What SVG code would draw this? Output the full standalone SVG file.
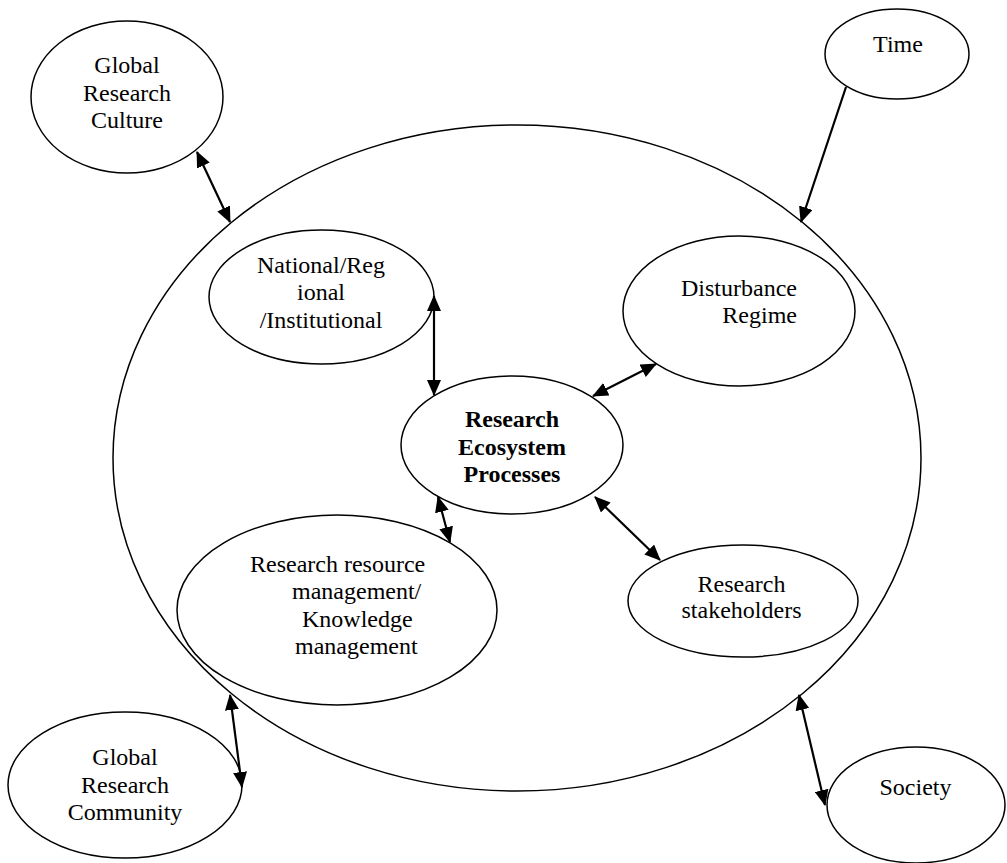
<svg xmlns="http://www.w3.org/2000/svg" width="1007" height="863" viewBox="0 0 1007 863">
<style>
.n{fill:#fff;stroke:#000;stroke-width:1.5}
.t{font-family:"Liberation Serif","Times New Roman",serif;font-size:24px;fill:#000}
.c{text-anchor:middle}
.b{font-weight:bold}
.e{stroke:#000;stroke-width:2.2;fill:none}
</style>
<defs>
<marker id="ah" viewBox="0 0 16 14" refX="15" refY="7" markerWidth="16" markerHeight="14" markerUnits="userSpaceOnUse" orient="auto-start-reverse">
<path d="M0,0 L16,7 L0,14 z" fill="#000"/>
</marker>
</defs>
<rect width="1007" height="863" fill="#fff"/>
<g id="ecosystem"><ellipse class="n" cx="517" cy="458" rx="404" ry="333"/></g>
<g id="global-culture"><ellipse class="n" cx="127" cy="97" rx="96" ry="76"/>
<text class="t c" x="127" y="73">Global</text><text class="t c" x="127" y="101">Research</text><text class="t c" x="127" y="128">Culture</text></g>
<g id="time"><ellipse class="n" cx="897" cy="54" rx="72" ry="45"/><text class="t c" x="898" y="52">Time</text></g>
<g id="national"><ellipse class="n" cx="321.5" cy="297" rx="112.5" ry="67"/>
<text class="t c" x="321" y="273">National/Reg</text><text class="t c" x="321" y="300">ional</text><text class="t c" x="321" y="328">/Institutional</text></g>
<g id="disturbance"><ellipse class="n" cx="739" cy="311" rx="116" ry="75"/>
<text class="t" x="797" y="296" text-anchor="end">Disturbance</text><text class="t" x="797" y="323" text-anchor="end">Regime</text></g>
<g id="processes"><ellipse class="n" cx="512" cy="445" rx="111" ry="69"/>
<text class="t c b" x="512" y="427">Research</text><text class="t c b" x="512" y="455">Ecosystem</text><text class="t c b" x="512" y="482">Processes</text></g>
<g id="resource"><ellipse class="n" cx="337" cy="610" rx="160" ry="95"/>
<text class="t" x="250" y="572">Research resource</text><text class="t" x="292" y="599">management/</text><text class="t" x="302" y="627">Knowledge</text><text class="t" x="295" y="654">management</text></g>
<g id="stakeholders"><ellipse class="n" cx="743" cy="601" rx="115" ry="56"/>
<text class="t c" x="741.5" y="592">Research</text><text class="t c" x="741.5" y="618">stakeholders</text></g>
<g id="global-community"><ellipse class="n" cx="125" cy="785" rx="117" ry="73"/>
<text class="t c" x="125" y="765">Global</text><text class="t c" x="125" y="793">Research</text><text class="t c" x="125" y="820">Community</text></g>
<g id="society"><ellipse class="n" cx="916" cy="805" rx="89" ry="58"/><text class="t c" x="915.5" y="795">Society</text></g>
<g id="connectors">
<line class="e" x1="197" y1="152" x2="230" y2="222" marker-start="url(#ah)" marker-end="url(#ah)"/>
<line class="e" x1="846" y1="87" x2="801" y2="222" marker-end="url(#ah)"/>
<line class="e" x1="434" y1="296" x2="434" y2="395" marker-start="url(#ah)" marker-end="url(#ah)"/>
<line class="e" x1="593" y1="396" x2="656" y2="364" marker-start="url(#ah)" marker-end="url(#ah)"/>
<line class="e" x1="438" y1="497" x2="450" y2="542" marker-start="url(#ah)" marker-end="url(#ah)"/>
<line class="e" x1="595" y1="497" x2="660" y2="560" marker-start="url(#ah)" marker-end="url(#ah)"/>
<line class="e" x1="230" y1="695" x2="242" y2="787" marker-start="url(#ah)" marker-end="url(#ah)"/>
<line class="e" x1="799" y1="695" x2="825" y2="805" marker-start="url(#ah)" marker-end="url(#ah)"/>
</g>
</svg>
